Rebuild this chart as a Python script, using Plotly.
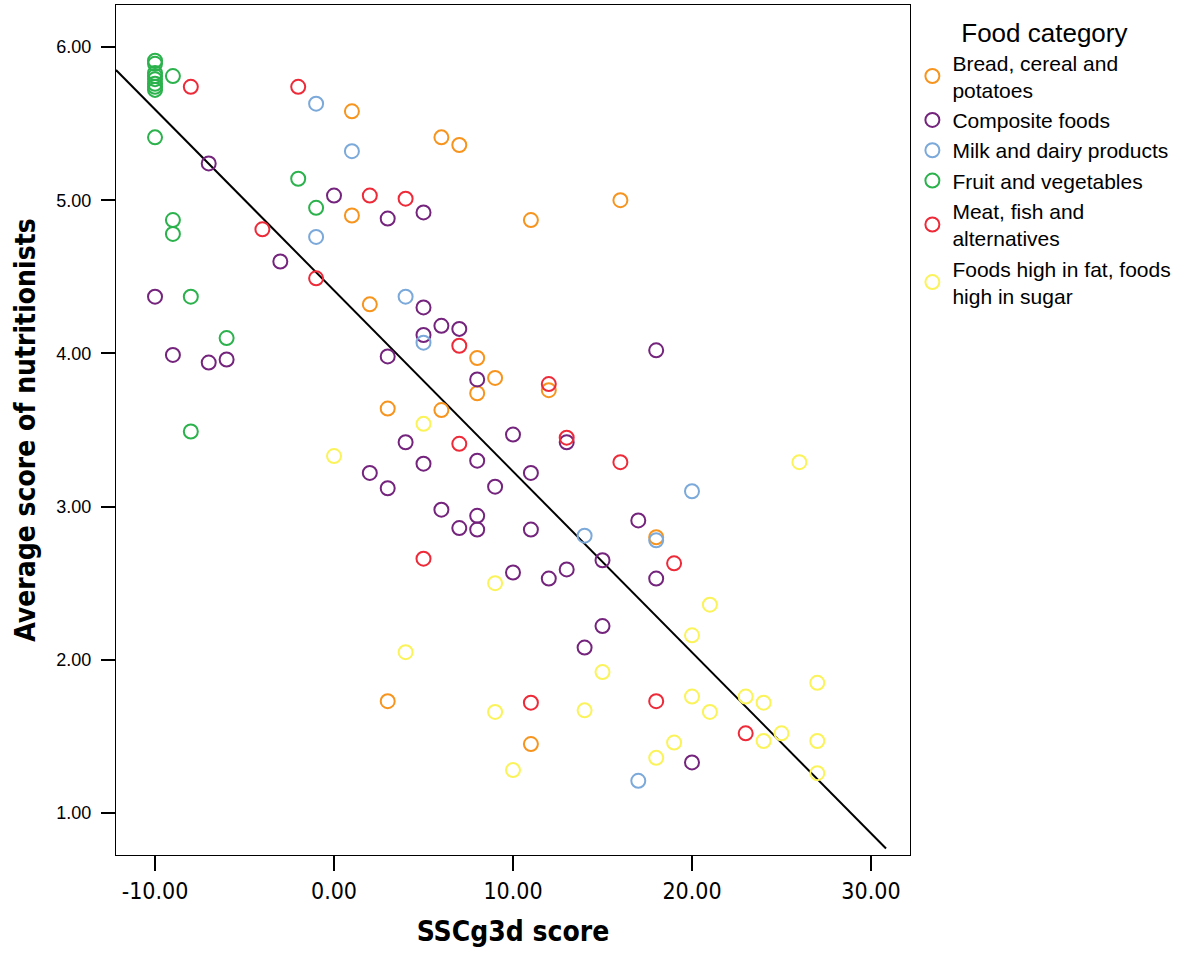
import plotly.graph_objects as go

# ---- data ----
categories = [
    "Bread, cereal and<br>potatoes",
    "Composite foods",
    "Milk and dairy products",
    "Fruit and vegetables",
    "Meat, fish and<br>alternatives",
    "Foods high in fat, foods<br>high in sugar",
]

bread_x = [1, 6, 7, 16, 1, 11, 2, 8, 9, 8, 12, 3, 6, 18, 3, 11]
bread_y = [5.58, 5.41, 5.36, 5.00, 4.90, 4.87, 4.32, 3.97, 3.84, 3.74, 3.76, 3.64, 3.63, 2.80, 1.73, 1.45]

composite_x = [-7, 0, 5, 3, -3, -10, 5, 6, 7, 5, 18, -9, 3, -7, -6, 8, 10, 4, 13, 2, 11, 5, 8, 9,
               3, 6, 8, 7, 8, 11, 17, 15, 10, 13, 12, 18, 15, 14, 20]
composite_y = [5.24, 5.03, 4.92, 4.88, 4.60, 4.37, 4.30, 4.18, 4.16, 4.12, 4.02, 3.99, 3.98, 3.94,
               3.96, 3.83, 3.47, 3.42, 3.42, 3.22, 3.22, 3.28, 3.30, 3.13, 3.12, 2.98, 2.94, 2.86,
               2.85, 2.85, 2.91, 2.65, 2.57, 2.59, 2.53, 2.53, 2.22, 2.08, 1.33]

milk_x = [-1, 1, -1, 4, 5, 20, 14, 18, 17]
milk_y = [5.63, 5.32, 4.76, 4.37, 4.07, 3.10, 2.81, 2.78, 1.21]

fruit_x = [-10, -10, -10, -10, -10, -10, -10, -10, -9, -10, -2, -1, -9, -9, -8, -6, -8]
fruit_y = [5.91, 5.89, 5.83, 5.81, 5.79, 5.76, 5.74, 5.72, 5.81, 5.41, 5.14, 4.95, 4.87, 4.78,
           4.37, 4.10, 3.49]

meat_x = [-8, -2, 2, 4, -4, -1, 7, 12, 13, 7, 16, 5, 19, 11, 18, 23]
meat_y = [5.74, 5.74, 5.03, 5.01, 4.81, 4.49, 4.05, 3.80, 3.45, 3.41, 3.29, 2.66, 2.63, 1.72, 1.73, 1.52]

fatsugar_x = [0, 5, 26, 9, 21, 20, 4, 15, 27, 20, 23, 24, 9, 14, 21, 25, 19, 24, 27, 18, 10, 27]
fatsugar_y = [3.33, 3.54, 3.29, 2.50, 2.36, 2.16, 2.05, 1.92, 1.85, 1.76, 1.76, 1.72, 1.66, 1.67,
              1.66, 1.52, 1.46, 1.47, 1.47, 1.36, 1.28, 1.26]

# fit line end points
fit_x = [-12.18, 30.84]
fit_y = [5.85, 0.768]

x_ticks = [-10, 0, 10, 20, 30]
x_tick_labels = ["-10.00", "0.00", "10.00", "20.00", "30.00"]
y_ticks = [1, 2, 3, 4, 5, 6]
y_tick_labels = ["1.00", "2.00", "3.00", "4.00", "5.00", "6.00"]

series_x = [bread_x, composite_x, milk_x, fruit_x, meat_x, fatsugar_x]
series_y = [bread_y, composite_y, milk_y, fruit_y, meat_y, fatsugar_y]
colors = ["#F7941E", "#74247C", "#7BA9DA", "#2BB24C", "#EE2A38", "#FBF35A"]

fig = go.Figure()

fig.add_trace(go.Scatter(
    x=fit_x, y=fit_y, mode="lines",
    line=dict(color="black", width=2),
    showlegend=False, hoverinfo="skip",
))

for name, xs, ys, c in zip(categories, series_x, series_y, colors):
    fig.add_trace(go.Scatter(
        x=xs, y=ys, mode="markers", name=name,
        marker=dict(symbol="circle-open", size=14, color=c, line=dict(color=c, width=2)),
    ))

narrow = "DejaVu Sans Condensed, Liberation Sans Narrow, Arial Narrow, sans-serif"
regular = "Liberation Sans, Arial, sans-serif"

fig.update_layout(
    width=1185, height=953,
    paper_bgcolor="white", plot_bgcolor="white",
    margin=dict(l=116, r=275, t=5, b=98),
    font=dict(family=regular, color="black"),
    xaxis=dict(
        range=[-12.18, 32.18], tickvals=x_ticks, ticktext=x_tick_labels,
        showgrid=False, zeroline=False, automargin=False,
        showline=True, linecolor="black", linewidth=1, mirror=True,
        ticks="outside", ticklen=15, tickwidth=2, tickcolor="black",
        tickfont=dict(family=narrow, size=23, color="black"),
        title=dict(text="<b>SSCg3d score</b>", font=dict(family=narrow, size=28, color="black"),
                   standoff=18),
    ),
    yaxis=dict(
        range=[0.726, 6.274], tickvals=y_ticks, ticktext=y_tick_labels,
        showgrid=False, zeroline=False, automargin=False,
        showline=True, linecolor="black", linewidth=1, mirror=True,
        ticks="outside", ticklen=14, tickwidth=2, tickcolor="black",
        ticklabelstandoff=6,
        tickfont=dict(family=regular, size=18, color="black"),
        title=dict(text="<b>Average score of nutritionists</b>",
                   font=dict(family=narrow, size=28, color="black"), standoff=12),
    ),
    legend=dict(
        x=1.003, xanchor="left", y=0.996, yanchor="top",
        title=dict(text="Food category", side="top center",
                   font=dict(family=regular, size=26, color="black")),
        font=dict(family=regular, size=21, color="black"),
        bgcolor="rgba(0,0,0,0)",
        itemsizing="trace",
        tracegroupgap=0,
    ),
)

fig.write_html("out.html", config={"displayModeBar": False},
               post_script="document.body.style.margin='0px';")
